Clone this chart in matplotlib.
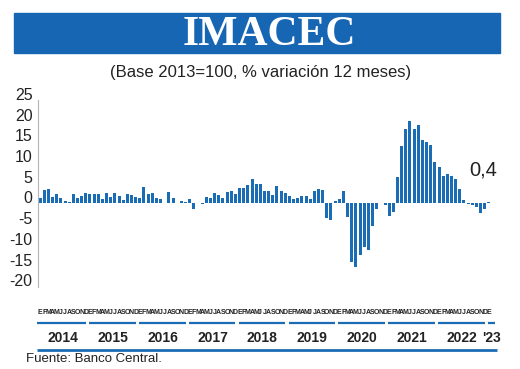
import matplotlib
matplotlib.use("Agg")
import matplotlib.pyplot as plt
import matplotlib.transforms as mtransforms
from matplotlib.patches import Rectangle

plt.rcParams['axes.unicode_minus'] = False

# IMACEC, % variacion 12 meses, ene-2014 .. ene-2023
imacec = [
    1.3, 3.2, 3.5, 1.5, 2.2, 1.3, 0.7, 0.3, 2.2, 1.2, 1.8, 2.6,      # 2014
    2.4, 2.3, 2.4, 1.0, 2.5, 1.6, 2.6, 1.7, 0.8, 2.3, 2.1, 1.5,      # 2015
    1.3, 3.9, 2.2, 2.5, 1.4, 1.0, 0.2, 2.8, 1.3, 0.1, 0.7, 0.3,      # 2016
    1.0, -1.3, 0.1, -0.1, 1.5, 1.3, 2.6, 2.1, 1.4, 2.7, 3.1, 2.4,    # 2017
    3.8, 3.8, 4.5, 5.8, 4.7, 4.7, 3.1, 3.1, 2.1, 4.1, 3.0, 2.5,      # 2018
    1.8, 1.0, 1.4, 1.8, 1.9, 1.1, 3.0, 3.5, 3.2, -3.4, -4.1, 0.6,    # 2019
    1.1, 3.1, -3.2, -14.1, -15.3, -12.5, -10.5, -11.3, -5.4, -1.3, 0.2, -0.3,  # 2020
    -3.1, -2.1, 6.3, 13.9, 17.9, 19.9, 17.9, 19.0, 15.4, 14.9, 14.1, 9.9,      # 2021
    8.9, 6.7, 7.1, 6.7, 6.0, 3.6, 0.9, -0.1, -0.4, -0.9, -2.3, -1.3,           # 2022
    0.4,                                                              # 2023
]
month_letters = list("EFMAMJJASOND") * 9 + ["E"]
years = ["2014", "2015", "2016", "2017", "2018", "2019", "2020", "2021", "2022", "'23"]
last_label = "0,4"
y_ticks = [25, 20, 15, 10, 5, 0, -5, -10, -15, -20]

blue = "#1a6db5"
dark = "#222222"

W, H = 520, 369
fig = plt.figure(figsize=(W / 100, H / 100), dpi=100)

# banner
fig.patches.append(Rectangle((14 / W, 1 - 53 / H), 486 / W, 40 / H,
                             transform=fig.transFigure, color="#1766b3", zorder=0))
fig.text(269 / W, 1 - 35 / H, "IMACEC", color="white", fontsize=30, fontweight="bold",
         family="Liberation Serif", ha="center", va="center")
fig.text(261 / W, 1 - 73 / H, "(Base 2013=100, % variación 12 meses)", color=dark,
         fontsize=12, family="Liberation Sans", ha="center", va="center")

ax = fig.add_axes([38 / W, 1 - 287 / H, 453 / W, 187 / H])
x = list(range(len(imacec)))
ax.bar(x, imacec, width=0.72, color=blue, zorder=2)
ax.set_xlim(-0.5, len(imacec) - 0.5)
ax.set_ylim(-84 / 4.16, 103 / 4.16)

for s in ["top", "right", "bottom"]:
    ax.spines[s].set_visible(False)
ax.spines["left"].set_color("#b5b5b5")
ax.spines["left"].set_linewidth(0.8)
ax.set_xticks([])
ax.set_yticks(y_ticks)
ax.set_yticklabels([str(v) for v in y_ticks], fontsize=11.5, color=dark,
                   family="Liberation Sans")
ax.tick_params(axis="y", length=0, pad=4)
shift = mtransforms.ScaledTranslation(0, 6 / 100, fig.dpi_scale_trans)
for lab in ax.get_yticklabels():
    lab.set_transform(lab.get_transform() + shift)

# last value label
ax.text(x[-1] + 2, 8.0, last_label, fontsize=14.5, color=dark, ha="right", va="center",
        family="Liberation Sans")

tr = ax.get_xaxis_transform()

# month letters, one under each bar
for i, m in enumerate(month_letters):
    ax.text(i, -26 / 187, m, transform=tr, fontsize=5, fontweight="bold", color=dark,
            family="Liberation Sans", ha="center", va="center", clip_on=False)

# year underlines and labels
for k, yr in enumerate(years):
    if k == 0:
        a, b = -0.7, 11.0
    elif k == len(years) - 1:
        a, b = 107.8, 109.4
    else:
        a, b = 12 * k - 0.2, 12 * k + 11.0
    ax.plot([a, b], [-36 / 187, -36 / 187], transform=tr, color=blue,
            lw=1.6, clip_on=False, solid_capstyle="butt")
    cx = 108.6 if k == len(years) - 1 else 12 * k + 5.5
    ax.text(cx, -51 / 187, yr, transform=tr, fontsize=10, fontweight="bold",
            color=dark, family="Liberation Sans", ha="center", va="center",
            clip_on=False)

ax.plot([-0.8, 109.9], [-63 / 187, -63 / 187], transform=tr, color=blue, lw=2,
        clip_on=False, solid_capstyle="butt")

fig.text(26 / W, 1 - 359 / H, "Fuente: Banco Central.", fontsize=9.5, color=dark,
         family="Liberation Sans", ha="left", va="center")

fig.savefig("out.png", dpi=100)
